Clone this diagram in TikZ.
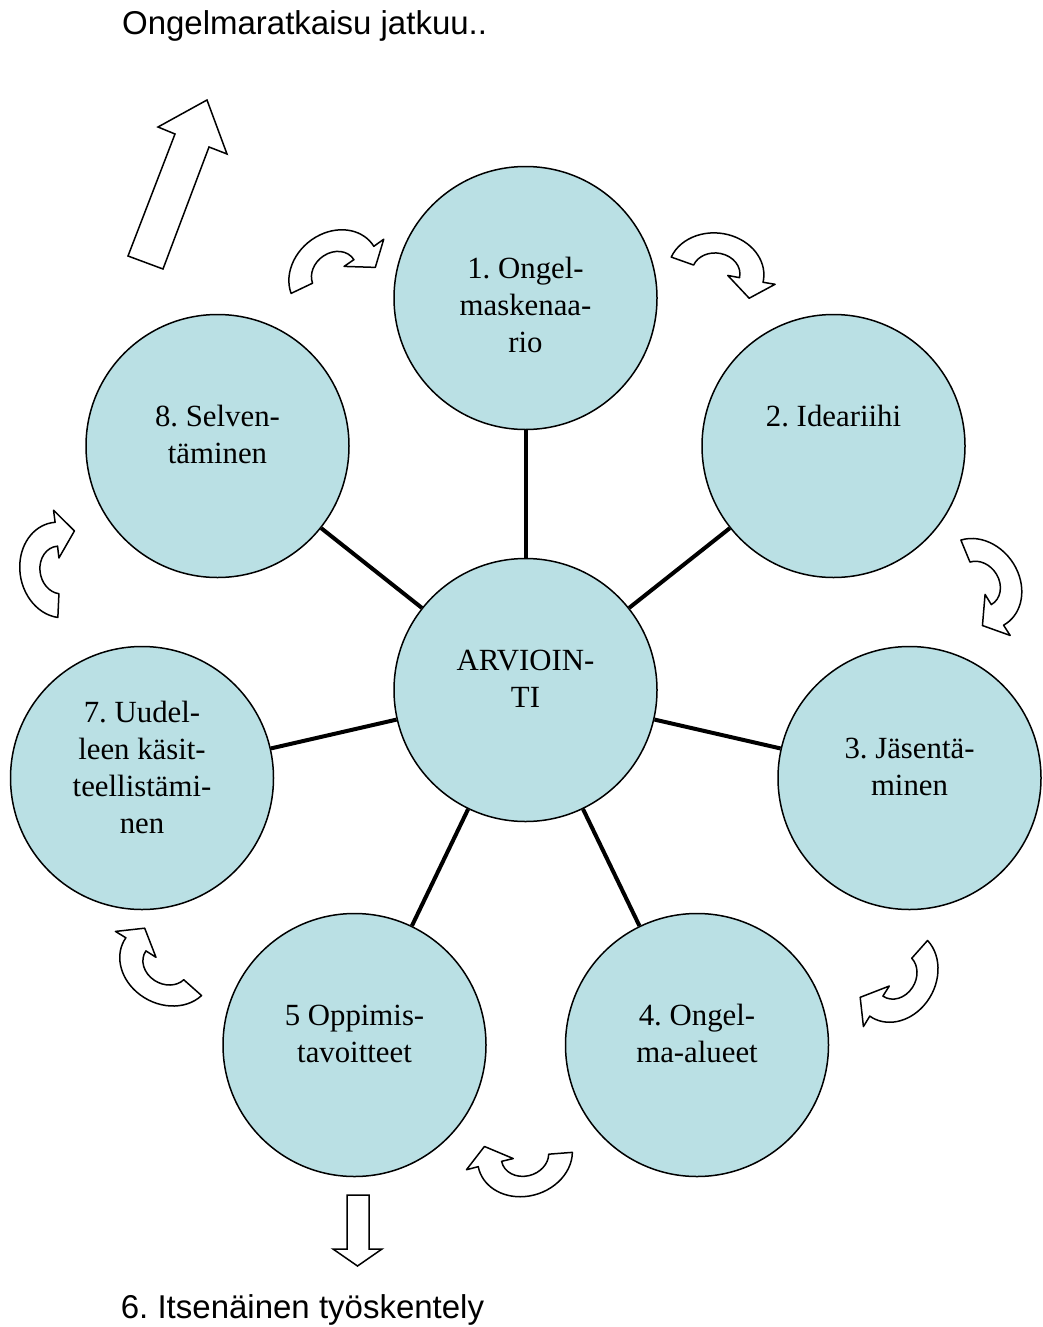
\documentclass[tikz,border=0pt]{standalone}
\usepackage{fontspec}
\setmainfont{Liberation Serif}
\newfontfamily\arialfont{Liberation Sans}
\usetikzlibrary{calc}
\definecolor{vaalea}{RGB}{186,224,228}
\frenchspacing

\tikzset{
	pallo/.style={circle, draw, fill=vaalea, line width=0.75pt, minimum size=131.5pt, inner sep=0pt},
	sisus/.style={anchor=north, align=center, inner sep=0pt, font=\fontsize{15.4}{18.5}\selectfont},
	puola/.style={line width=2pt},
	kaari/.style={draw, fill=white, line width=0.75pt, line join=round},
	blok/.style={draw, fill=white, line width=0.75pt},
	otsikko/.style={anchor=base west, inner sep=0pt, font=\arialfont\fontsize{16.5}{19.8}\selectfont}
}

\begin{document}
\begin{tikzpicture}[x=0.5pt, y=-0.5pt]
	\useasboundingbox (0,0) rectangle (1043,1327);
	% ympyrat
	\node[pallo] (arv) at (525.5,690) {};
	\node[pallo] (p1) at (525.5,298) {};
	\node[pallo] (p2) at (833.5,446) {};
	\node[pallo] (p3) at (909.5,778) {};
	\node[pallo] (p4) at (697,1045) {};
	\node[pallo] (p5) at (354.5,1045) {};
	\node[pallo] (p7) at (142,778) {};
	\node[pallo] (p8) at (217.5,446) {};
	\foreach \p in {p1,p2,p3,p4,p5,p7,p8}
	\draw[puola] (arv) -- (\p);
	% tekstit
	\node[sisus] (tarv) at ($(arv)+(0,-45.4)$) {\strut ARVIOIN-\\TI};
	\node[sisus] (t1) at ($(p1)+(0,-45.4)$) {\strut 1. Ongel-\\maskenaa-\\rio};
	\node[sisus] (t2) at ($(p2)+(0,-45.4)$) {\strut 2. Ideariihi};
	\node[sisus] (t3) at ($(p3)+(0,-45.4)$) {\strut 3. Jäsentä-\\minen};
	\node[sisus] (t4) at ($(p4)+(0,-45.4)$) {\strut 4. Ongel-\\ma-alueet};
	\node[sisus] (t5) at ($(p5)+(0,-45.4)$) {\strut 5 Oppimis-\\tavoitteet};
	\node[sisus] (t7) at ($(p7)+(0,-82)$) {\strut 7. Uudel-\\leen käsit-\\teellistämi-\\nen};
	\node[sisus] (t8) at ($(p8)+(0,-45.4)$) {\strut 8. Selven-\\täminen};
	\node[otsikko] (jatkuu) at (121.7,35) {Ongelmaratkaisu jatkuu..};
	\node[otsikko] (itse) at (120.5,1318) {6. Itsenäinen työskentely};
	% kaarinuolet
	\foreach \x/\y/\r in {334/273/38, 716/273/-7, 979/584/-55, 896/976/-119,
		525/1156/-163, 166/964/151, 60/570/100}
	\draw[kaari, shift={(\x,\y)}, rotate=\r]
	(195:48 and 40) arc[start angle=195, end angle=365, x radius=48, y radius=40]
	-- (60,4) -- (36,21) -- (12,1)
	-- (5:24 and 20) arc[start angle=365, end angle=195, x radius=24, y radius=20]
	-- cycle;
	% suorat nuolet
	\draw[blok] (128,256) -- (175,134) -- (158,127) -- (207,100) -- (227,154)
	-- (209,147) -- (163,269) -- cycle;
	\draw[blok] (347,1195) -- (369,1195) -- (369,1249) -- (382,1249) -- (357.5,1266)
	-- (333,1249) -- (347,1249) -- cycle;
\end{tikzpicture}
\end{document}
